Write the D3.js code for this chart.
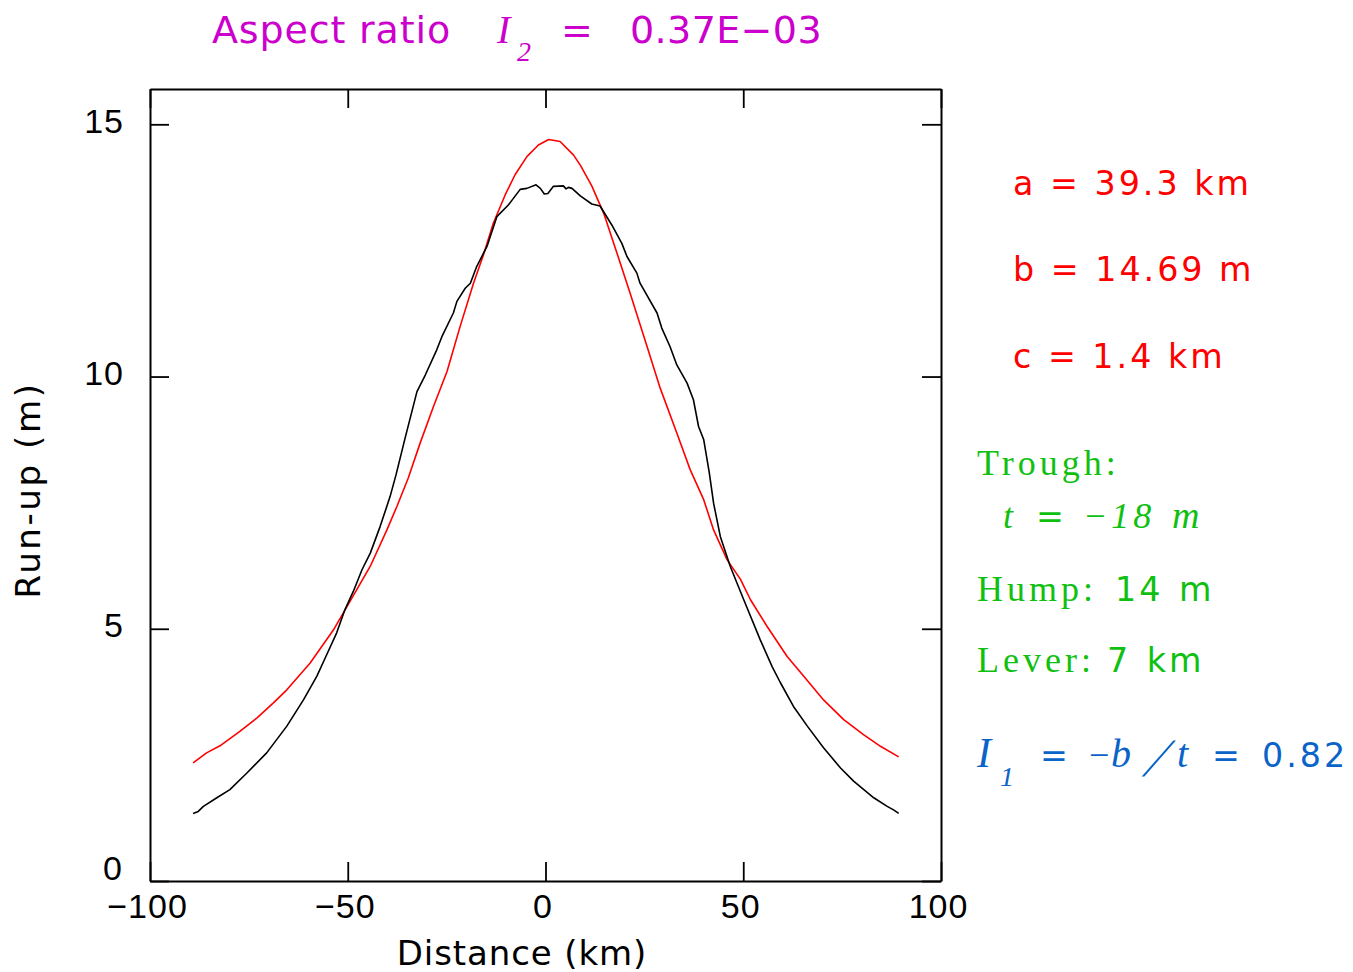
<!DOCTYPE html>
<html>
<head>
<meta charset="utf-8">
<script src="https://cdn.jsdelivr.net/npm/d3@7"></script>
<style>
  html, body { margin: 0; padding: 0; background: #fff; }
  svg { display: block; }
</style>
</head>
<body>
<svg id="chart" width="1353" height="972"></svg>
<script>
// ---------------- data ----------------
const obsDistance = [-89.1,-87.8,-86.5,-83.1,-79.8,-75.5,-70.5,-65.4,-61.2,-57.8,-55.3,-52.8,-50.7,-48.6,-46.4,-44.3,-41.8,-39.3,-37.8,-35.5,-32.5,-30.4,-27.5,-26.2,-23.3,-22.4,-20.3,-19.0,-17.4,-14.8,-12.3,-9.4,-6.4,-4.7,-2.4,-1.3,-0.3,0.6,2.0,4.5,5.2,5.8,6.7,8.8,11.7,13.8,16.8,19.3,20.6,23.1,23.9,28.2,29.4,31.5,33.2,35.8,37.4,38.7,40.0,41.4,42.5,44.2,46.7,50.1,54.3,57.3,59.4,62.7,66.2,70.3,74.6,77.9,83.0,86.4,88.0,89.3];
const obsRunup = [1.34,1.38,1.48,1.65,1.81,2.14,2.54,3.07,3.59,4.06,4.49,4.92,5.38,5.74,6.17,6.50,7.03,7.62,8.05,8.78,9.70,10.03,10.53,10.79,11.26,11.49,11.75,11.85,12.18,12.58,13.17,13.40,13.71,13.73,13.80,13.73,13.62,13.63,13.77,13.78,13.72,13.75,13.73,13.58,13.42,13.38,13.00,12.64,12.38,12.05,11.85,11.26,10.96,10.59,10.23,9.87,9.54,9.01,8.75,8.10,7.49,6.83,6.24,5.58,4.78,4.25,3.93,3.46,3.07,2.64,2.24,1.98,1.65,1.48,1.41,1.34];

const fitDistance = [-89.1,-85.7,-82.3,-77.2,-73.0,-68.8,-65.4,-59.5,-53.6,-50.2,-44.3,-40.1,-37.6,-34.7,-31.7,-28.3,-24.9,-21.6,-18.2,-15.7,-13.2,-10.2,-7.7,-4.7,-1.8,0.8,3.7,7.1,8.8,11.7,14.7,18.1,21.4,25.7,29.0,33.2,36.6,40.0,42.5,45.9,49.3,51.8,56.0,61.1,65.3,70.3,75.4,80.4,84.7,89.3];
const fitRunup = [2.34,2.54,2.68,2.97,3.23,3.53,3.79,4.32,4.98,5.44,6.24,6.96,7.42,7.99,8.68,9.41,10.10,10.99,11.85,12.41,13.04,13.60,14.00,14.36,14.59,14.70,14.66,14.39,14.19,13.78,13.24,12.44,11.65,10.59,9.77,8.88,8.15,7.56,6.96,6.37,5.98,5.58,5.05,4.45,4.06,3.59,3.20,2.90,2.67,2.46];

const xTicks = [-100, -50, 0, 50, 100];
const yTicks = [0, 5, 10, 15];
const xDomain = [-100, 100];
const yDomain = [0, 15.7];

const titleText = "Aspect ratio";
const titleValue = "0.37E\u221203";
const fitParams = ["a = 39.3 km", "b = 14.69 m", "c = 1.4 km"];
const troughValue = ["\u221218", "m"];
const humpValue = "14 m";
const leverValue = "7 km";
const ratioValue = "0.82";

// ---------------- layout ----------------
const SANS = "'Liberation Sans', Arial, sans-serif";
const WIDE = "'DejaVu Sans', Verdana, sans-serif";
const SERIF = "'Liberation Serif', 'Times New Roman', serif";
const MAGENTA = "#cc00cc", RED = "#ff0000", GREEN = "#10c010", BLUE = "#0a64c8";

const svg = d3.select("#chart");
const L = 150, R = 941, T = 89, B = 881;

const x = d3.scaleLinear().domain(xDomain).range([L, R]);
const y = d3.scaleLinear().domain(yDomain).range([B, T]);

const fmt = d => (d < 0 ? "\u2212" + Math.abs(d) : String(d));

function styleAxis(g) {
  g.select(".domain").attr("stroke", "#000").attr("stroke-width", 2);
  g.selectAll(".tick line").attr("stroke", "#000").attr("stroke-width", 1.8);
  g.selectAll(".tick text")
    .attr("fill", "#000")
    .style("font-family", SANS)
    .style("font-size", "34px")
    .style("letter-spacing", "1px");
}

// bottom axis with labels
const gx = svg.append("g").attr("transform", `translate(0,${B})`)
  .call(d3.axisBottom(x).tickValues(xTicks).tickFormat(fmt).tickSizeInner(-19).tickSizeOuter(0).tickPadding(13));
styleAxis(gx);
gx.selectAll(".tick text").attr("dy", "0.72em").attr("x", -3);

// top axis (ticks only)
const gxt = svg.append("g").attr("transform", `translate(0,${T})`)
  .call(d3.axisTop(x).tickValues(xTicks).tickFormat("").tickSizeInner(-19).tickSizeOuter(0));
styleAxis(gxt);

// left axis with labels
const gy = svg.append("g").attr("transform", `translate(${L},0)`)
  .call(d3.axisLeft(y).tickValues(yTicks).tickFormat(fmt).tickSizeInner(-19).tickSizeOuter(0).tickPadding(26));
styleAxis(gy);
gy.selectAll(".tick text").attr("dy", "0.24em");
gy.selectAll(".tick").filter(d => d === 0).select("text")
  .attr("dy", "-0.04em").attr("x", -27);

// right axis (ticks only)
const gyr = svg.append("g").attr("transform", `translate(${R},0)`)
  .call(d3.axisRight(y).tickValues(yTicks).tickFormat("").tickSizeInner(-19).tickSizeOuter(0));
styleAxis(gyr);

// curves
svg.append("clipPath").attr("id", "plotclip")
  .append("rect").attr("x", L).attr("y", T).attr("width", R - L).attr("height", B - T);

const line = d3.line().x(d => x(d[0])).y(d => y(d[1]));
const plot = svg.append("g").attr("clip-path", "url(#plotclip)");
plot.append("path")
  .datum(d3.zip(fitDistance, fitRunup))
  .attr("d", line).attr("fill", "none").attr("stroke", RED).attr("stroke-width", 1.6)
  .attr("stroke-linejoin", "round");
plot.append("path")
  .datum(d3.zip(obsDistance, obsRunup))
  .attr("d", line).attr("fill", "none").attr("stroke", "#000").attr("stroke-width", 1.6)
  .attr("stroke-linejoin", "round");

// axis titles
svg.append("text").text("Distance (km)")
  .attr("x", 522).attr("y", 965).attr("text-anchor", "middle")
  .style("font-family", WIDE).style("font-size", "34px").style("letter-spacing", "0.9px");
svg.append("text").text("Run-up (m)")
  .attr("transform", "translate(40,490) rotate(-90)").attr("text-anchor", "middle")
  .style("font-family", WIDE).style("font-size", "34px").style("letter-spacing", "2.6px");

// generic text helper
function txt(s, px, py, o) {
  return svg.append("text").text(s).attr("x", px).attr("y", py)
    .attr("fill", o.color)
    .style("font-family", o.font || WIDE)
    .style("font-size", (o.size || 34) + "px")
    .style("font-style", o.italic ? "italic" : "normal")
    .style("letter-spacing", (o.ls || 0) + "px")
    .style("word-spacing", (o.ws || 0) + "px");
}

// title
txt(titleText, 212, 43, { color: MAGENTA, size: 38, ls: 0.85 });
txt("I", 497, 43, { color: MAGENTA, size: 40, font: SERIF, italic: true });
txt("2", 517, 61, { color: MAGENTA, size: 28, font: SERIF, italic: true });
txt("=", 561, 43, { color: MAGENTA, size: 38 });
txt(titleValue, 630, 43, { color: MAGENTA, size: 38, ls: 0.4 });

// fit parameters
const paramY = [195, 281, 368];
fitParams.forEach((s, i) => txt(s, 1013, paramY[i], { color: RED, size: 33.3, ls: 3 }));

// green annotations
txt("Trough:", 977, 475, { color: GREEN, size: 36, font: SERIF, ls: 4 });
txt("t", 1003, 528, { color: GREEN, size: 36, font: SERIF, italic: true });
txt("=", 1036, 528, { color: GREEN, size: 33.3 });
txt(troughValue[0], 1083, 528, { color: GREEN, size: 36, font: SERIF, italic: true, ls: 4 });
txt(troughValue[1], 1172, 528, { color: GREEN, size: 38, font: SERIF, italic: true, ls: 1 });
txt("Hump:", 977, 601, { color: GREEN, size: 36, font: SERIF, ls: 4 });
txt(humpValue, 1115, 601, { color: GREEN, size: 33.3, ls: 3, ws: 2 });
txt("Lever:", 977, 672, { color: GREEN, size: 36, font: SERIF, ls: 4 });
txt(leverValue, 1107, 672, { color: GREEN, size: 33.3, ls: 3, ws: 2 });

// blue index
txt("I", 977, 767, { color: BLUE, size: 42, font: SERIF, italic: true });
txt("1", 1000, 786, { color: BLUE, size: 28, font: SERIF, italic: true });
txt("=", 1040, 767, { color: BLUE, size: 33.3 });
txt("\u2212", 1089, 767, { color: BLUE, size: 36, font: SERIF });
txt("b", 1111, 767, { color: BLUE, size: 40, font: SERIF, italic: true });
txt("/", 0, 0, { color: BLUE, size: 54, font: SERIF })
  .attr("transform", "translate(1142,776) skewX(-28)");
txt("t", 1177, 767, { color: BLUE, size: 40, font: SERIF, italic: true });
txt("=", 1212, 767, { color: BLUE, size: 33.3 });
txt(ratioValue, 1262, 767, { color: BLUE, size: 33.3, ls: 3 });
</script>
</body>
</html>
